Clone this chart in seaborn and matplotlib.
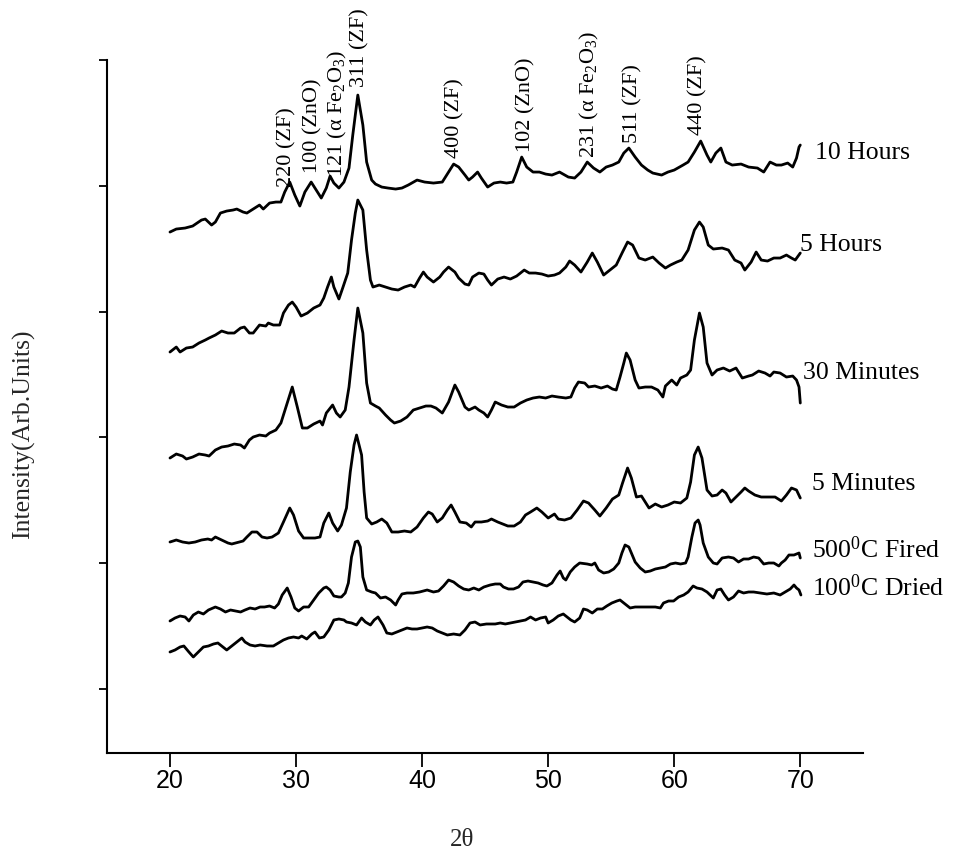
import matplotlib
matplotlib.use("Agg")
import matplotlib.pyplot as plt
import seaborn as sns
import pandas as pd

# ---------------- data (2theta in degrees, intensity in arbitrary units) -------------
tt_10h = [20.0,20.5,21.2,21.8,22.5,22.8,23.3,23.6,24.0,24.5,
          25.0,25.3,25.8,26.1,26.6,27.1,27.4,27.9,28.4,28.8,
          29.1,29.5,29.9,30.3,30.7,31.2,31.5,32.0,32.4,32.7,
          33.0,33.4,33.8,34.2,34.5,34.9,35.3,35.6,36.0,36.3,
          36.8,37.3,37.9,38.4,38.9,39.6,40.2,40.9,41.6,42.1,
          42.5,42.9,43.4,43.7,44.0,44.4,44.7,45.2,45.7,46.2,
          46.7,47.2,47.5,47.9,48.3,48.8,49.3,49.8,50.3,50.9,
          51.6,52.1,52.6,53.1,53.6,54.1,54.6,55.1,55.6,56.0,
          56.4,56.9,57.4,57.9,58.3,59.0,59.5,60.0,60.7,61.1,
          61.6,62.1,62.6,62.9,63.3,63.7,64.1,64.6,65.3,65.9,
          66.6,67.1,67.6,68.1,68.5,69.0,69.4,69.7,69.9,70.0]
int_10h = [521,524,525,527,533,534,528,531,540,542,
           543,544,541,540,544,548,544,550,551,551,
           561,571,558,547,561,571,565,555,565,577,
           570,565,571,585,618,658,628,591,573,569,
           566,565,564,565,568,573,571,570,571,581,
           589,586,578,573,576,581,575,566,570,571,
           570,571,581,596,586,581,581,579,578,581,
           576,575,581,591,585,581,586,588,591,600,
           605,596,588,583,580,578,581,583,588,591,
           601,612,598,591,600,605,591,588,589,586,
           585,581,591,588,588,590,586,595,606,608]

tt_5h = [20.0,20.5,20.8,21.3,21.8,22.3,22.8,23.1,23.6,24.1,
         24.6,25.1,25.6,25.9,26.3,26.6,27.1,27.6,27.8,28.2,
         28.7,29.0,29.4,29.7,30.0,30.4,30.9,31.4,31.9,32.2,
         32.5,32.8,33.0,33.4,33.7,34.1,34.4,34.7,34.9,35.3,
         35.6,35.9,36.1,36.6,37.1,37.6,38.1,38.6,39.1,39.4,
         39.8,40.1,40.4,40.9,41.4,41.7,42.1,42.6,42.9,43.4,
         43.7,44.0,44.5,44.9,45.2,45.5,46.0,46.5,47.0,47.5,
         48.1,48.5,49.0,49.5,50.0,50.5,50.9,51.4,51.7,52.1,
         52.6,53.1,53.5,53.9,54.4,54.9,55.4,55.9,56.3,56.7,
         57.2,57.7,58.3,58.8,59.3,59.7,60.2,60.6,61.1,61.6,
         62.0,62.3,62.7,63.1,63.8,64.3,64.8,65.3,65.6,66.1,
         66.5,66.9,67.4,67.9,68.4,68.9,69.3,69.6,70.0]
int_5h = [401,406,401,405,406,410,413,415,418,422,
          420,420,425,426,420,420,428,427,430,428,
          428,440,448,451,446,437,440,445,448,455,
          466,476,466,454,465,480,513,540,553,543,
          503,473,466,468,466,464,463,466,468,466,
          475,481,476,471,476,481,486,481,475,469,
          468,476,480,479,473,468,474,476,474,477,
          483,480,480,479,477,478,480,486,492,488,
          481,491,500,491,478,483,488,501,511,508,
          495,493,496,490,485,488,491,493,503,523,
          531,526,508,504,505,503,493,490,483,491,
          501,493,492,495,495,498,495,493,500]

tt_30m = [20.0,20.5,21.0,21.3,21.8,22.3,22.8,23.1,23.6,24.1,
          24.6,25.1,25.6,25.9,26.3,26.6,27.1,27.6,27.9,28.4,
          28.8,29.2,29.7,30.1,30.5,30.9,31.4,31.9,32.1,32.4,
          32.9,33.2,33.5,33.9,34.2,34.6,34.9,35.3,35.6,35.9,
          36.3,36.6,37.1,37.5,37.8,38.3,38.8,39.3,39.8,40.3,
          40.7,41.1,41.6,42.1,42.6,42.9,43.4,43.7,44.2,44.5,
          44.9,45.2,45.5,45.8,46.3,46.8,47.3,47.8,48.3,48.8,
          49.3,49.8,50.3,50.8,51.4,51.8,52.1,52.4,52.9,53.2,
          53.7,54.2,54.7,55.1,55.4,55.7,56.0,56.2,56.5,56.9,
          57.2,57.7,58.2,58.7,59.1,59.3,59.8,60.2,60.5,61.0,
          61.3,61.6,62.0,62.3,62.6,63.0,63.4,63.9,64.4,64.9,
          65.4,65.9,66.2,66.7,67.2,67.6,67.9,68.4,68.9,69.4,
          69.7,69.9,70.0]
int_30m = [295,299,297,294,296,299,298,297,303,306,
           307,309,308,305,313,316,318,317,320,323,
           330,346,366,346,325,325,329,332,328,340,
           348,340,336,343,366,413,445,420,370,350,
           347,345,338,333,330,332,336,343,345,347,
           347,345,340,351,368,361,346,343,346,343,
           340,336,343,351,348,346,346,350,353,355,
           356,355,357,356,355,356,365,371,370,366,
           367,365,367,364,363,376,390,400,393,373,
           365,366,366,363,356,367,373,368,375,378,
           383,413,440,426,390,378,383,385,382,385,
           375,377,378,382,380,377,381,380,376,377,
           373,366,350]

tt_5m = [20.0,20.5,21.0,21.5,22.0,22.5,23.0,23.3,23.6,24.1,
         24.6,24.9,25.5,25.8,26.1,26.5,26.9,27.3,27.7,28.1,
         28.6,29.0,29.5,29.8,30.2,30.6,31.0,31.5,31.9,32.2,
         32.6,32.9,33.3,33.6,34.0,34.3,34.6,34.8,35.2,35.4,
         35.6,36.0,36.4,36.8,37.2,37.6,38.1,38.6,39.1,39.6,
         40.1,40.5,40.8,41.2,41.6,42.0,42.3,42.6,43.0,43.5,
         43.9,44.2,44.7,45.2,45.5,46.0,46.4,46.8,47.3,47.8,
         48.2,48.6,49.1,49.5,50.0,50.5,50.8,51.3,51.8,52.3,
         52.8,53.2,53.7,54.1,54.6,55.1,55.6,55.9,56.3,56.6,
         57.0,57.4,57.7,58.0,58.5,59.0,59.5,60.0,60.5,61.0,
         61.3,61.6,61.9,62.2,62.6,63.0,63.4,63.8,64.1,64.5,
         64.9,65.3,65.6,65.9,66.4,66.9,67.6,68.0,68.5,68.9,
         69.3,69.7,70.0]
int_5m = [211,213,211,210,211,213,214,213,216,213,
          210,209,211,212,216,221,221,216,215,216,
          220,231,245,238,222,215,215,215,216,230,
          240,230,222,228,245,281,308,318,298,261,
          235,229,231,234,230,221,221,222,221,226,
          235,241,239,231,235,243,248,241,231,230,
          226,231,231,232,234,231,229,227,227,231,
          238,241,245,241,235,239,234,233,235,243,
          252,250,243,237,245,254,258,270,285,275,
          256,257,251,245,249,246,248,251,250,255,
          271,298,306,295,263,257,258,263,260,251,
          256,261,265,262,258,256,256,256,252,258,
          265,263,255]

tt_500 = [20.0,20.4,20.8,21.2,21.5,21.85,22.25,22.65,23.05,23.6,
          24.0,24.4,24.8,25.2,25.6,25.95,26.35,26.75,27.15,27.5,
          27.9,28.3,28.6,28.9,29.3,29.6,29.9,30.2,30.6,31.0,
          31.4,31.8,32.2,32.4,32.7,33.0,33.4,33.6,33.9,34.15,
          34.4,34.7,34.9,35.1,35.3,35.6,36.0,36.3,36.7,37.1,
          37.5,37.9,38.1,38.4,38.8,39.3,39.8,40.4,40.9,41.3,
          41.7,42.1,42.5,42.9,43.3,43.7,44.1,44.5,44.9,45.4,
          45.8,46.2,46.45,46.85,47.25,47.65,48.0,48.4,48.8,49.2,
          49.6,49.9,50.3,50.7,50.95,51.2,51.4,51.75,52.1,52.5,
          53.1,53.45,53.7,54.0,54.4,54.8,55.2,55.6,55.85,56.1,
          56.4,56.6,56.9,57.3,57.7,58.1,58.5,58.9,59.3,59.7,
          60.1,60.5,60.9,61.1,61.4,61.65,61.9,62.05,62.3,62.7,
          63.1,63.4,63.8,64.3,64.7,65.1,65.5,65.9,66.3,66.7,
          67.1,67.5,67.9,68.3,68.5,68.8,69.1,69.5,69.9,70.0]
int_500 = [132,135,137,136,132,138,141,139,143,146,
           144,141,143,142,141,143,145,144,146,146,
           147,145,149,158,165,156,145,142,146,146,
           153,160,165,166,163,157,156,156,160,170,
           196,211,212,206,176,163,161,160,155,156,
           153,148,153,159,160,160,161,163,161,162,
           167,173,171,167,164,163,165,163,166,168,
           169,169,166,164,164,166,171,172,171,170,
           168,167,170,178,182,175,173,181,186,190,
           189,188,190,183,180,181,184,190,200,208,
           206,200,191,185,181,182,184,185,186,189,
           190,189,190,196,216,230,233,228,210,196,
           190,189,195,196,195,191,194,194,196,195,
           189,190,190,187,190,193,198,198,200,195]

tt_100 = [20.0,20.4,20.8,21.1,21.5,21.85,22.25,22.65,23.05,23.45,
          23.8,24.2,24.5,24.9,25.3,25.7,25.95,26.35,26.75,27.15,
          27.7,28.2,28.6,29.0,29.4,29.8,30.2,30.45,30.85,31.25,
          31.5,31.85,32.2,32.6,33.0,33.4,33.8,34.0,34.4,34.8,
          35.2,35.5,35.9,36.2,36.5,36.9,37.2,37.6,38.0,38.4,
          38.8,39.2,39.6,40.0,40.4,40.8,41.2,41.6,42.0,42.5,
          43.0,43.4,43.8,44.2,44.6,45.1,45.4,45.8,46.2,46.6,
          47.0,47.4,47.8,48.2,48.6,49.0,49.4,49.8,50.0,50.4,
          50.8,51.2,51.5,51.8,52.1,52.5,52.8,53.1,53.5,53.9,
          54.3,54.65,55.05,55.45,55.7,56.1,56.5,56.9,57.3,57.7,
          58.1,58.5,58.9,59.15,59.55,59.95,60.35,60.75,61.1,61.5,
          61.8,62.2,62.6,62.85,63.1,63.4,63.7,64.0,64.3,64.7,
          65.1,65.5,65.9,66.3,66.8,67.35,67.9,68.4,68.8,69.2,
          69.5,69.7,69.9,70.05]
int_100 = [101,103,106,107,101,96,101,106,107,109,
           110,106,103,107,111,115,111,108,107,108,
           107,107,110,113,115,116,115,117,114,119,
           121,115,116,123,133,134,133,131,130,128,
           135,131,128,133,136,128,120,119,121,123,
           125,124,124,125,126,125,122,120,118,119,
           118,123,130,131,128,129,129,129,130,129,
           130,131,132,133,136,133,135,136,130,133,
           137,139,136,133,131,135,144,143,140,144,
           144,147,150,152,153,149,145,146,146,146,
           146,146,145,150,152,152,156,158,161,167,
           165,164,161,158,155,163,164,158,153,156,
           162,160,161,161,160,159,160,158,161,164,
           168,165,163,158]

sample_names = ["10 Hours", "5 Hours", "30 Minutes", "5 Minutes",
                "500$^0$C Fired", "100$^0$C Dried"]

peak_labels = ["220 (ZF)", "100 (ZnO)", "121 (\u03b1 Fe$_2$O$_3$)", "311 (ZF)",
               "400 (ZF)", "102 (ZnO)", "231 (\u03b1 Fe$_2$O$_3$)", "511 (ZF)", "440 (ZF)"]
peak_pos = [29.3, 31.3, 33.3, 35.1, 42.6, 48.2, 53.3, 56.7, 61.9]
peak_lab_int = [566, 580, 576, 666, 595, 601, 595, 610, 618]

x_ticks = [20, 30, 40, 50, 60, 70]

# ---------------- styling -------------
sns.set_theme(style="ticks")
plt.rcParams["font.family"] = ["Liberation Serif", "DejaVu Serif"]
plt.rcParams["mathtext.fontset"] = "custom"
plt.rcParams["mathtext.rm"] = "Liberation Serif"
plt.rcParams["mathtext.it"] = "Liberation Serif:italic"
plt.rcParams["mathtext.bf"] = "Liberation Serif:bold"

fig = plt.figure(figsize=(9.55, 8.58), dpi=100)
ax = fig.add_axes([0.112, 0.1224, 0.792, 0.8076])

series = [(tt_10h, int_10h), (tt_5h, int_5h), (tt_30m, int_30m),
          (tt_5m, int_5m), (tt_500, int_500), (tt_100, int_100)]
frames = []
for name, (tt, it) in zip(sample_names, series):
    frames.append(pd.DataFrame({"2theta": tt, "I": it, "sample": name}))
df = pd.concat(frames, ignore_index=True)

for name in sample_names:
    sub = df[df["sample"] == name]
    sns.lineplot(data=sub, x="2theta", y="I", ax=ax, color="black",
                 linewidth=2.0, estimator=None, sort=False, legend=False)

# curve names to the right of each pattern
name_pos = [(71.2, 600), (70.0, 508), (70.2, 380), (70.95, 269), (70.95, 203), (70.95, 165)]
for name, (xp, yp) in zip(sample_names, name_pos):
    ax.text(xp, yp, name, fontsize=18.5, ha="left", va="center", color="black")

# peak annotations
for lab, xp, yp in zip(peak_labels, peak_pos, peak_lab_int):
    ax.text(xp, yp, lab, fontsize=16, rotation=90, ha="center", va="bottom",
            color="black")

ax.set_xlim(15, 75)
ax.set_ylim(0, 693)
ax.set_xticks(x_ticks)
ax.set_xticklabels([str(t) for t in x_ticks])
ax.set_yticks([64, 190, 316, 441, 567, 693])
ax.set_yticklabels([])
ax.tick_params(axis="x", direction="out", length=10, width=1.3, colors="black",
               labelsize=18, pad=1.5)
ax.tick_params(axis="y", direction="out", length=6, width=1.3, colors="black")
for lbl in ax.get_xticklabels():
    lbl.set_fontfamily("Liberation Sans")

sns.despine(ax=ax)
for sp in ["left", "bottom"]:
    ax.spines[sp].set_linewidth(1.5)
    ax.spines[sp].set_color("black")

ax.set_xlabel("2\u03b8", fontsize=18)
ax.set_ylabel("Intensity(Arb.Units)", fontsize=18.5)
ax.xaxis.set_label_coords(0.47, -0.11)
ax.yaxis.set_label_coords(-0.095, 0.46)

fig.savefig("out.png", dpi=100, facecolor="white")
